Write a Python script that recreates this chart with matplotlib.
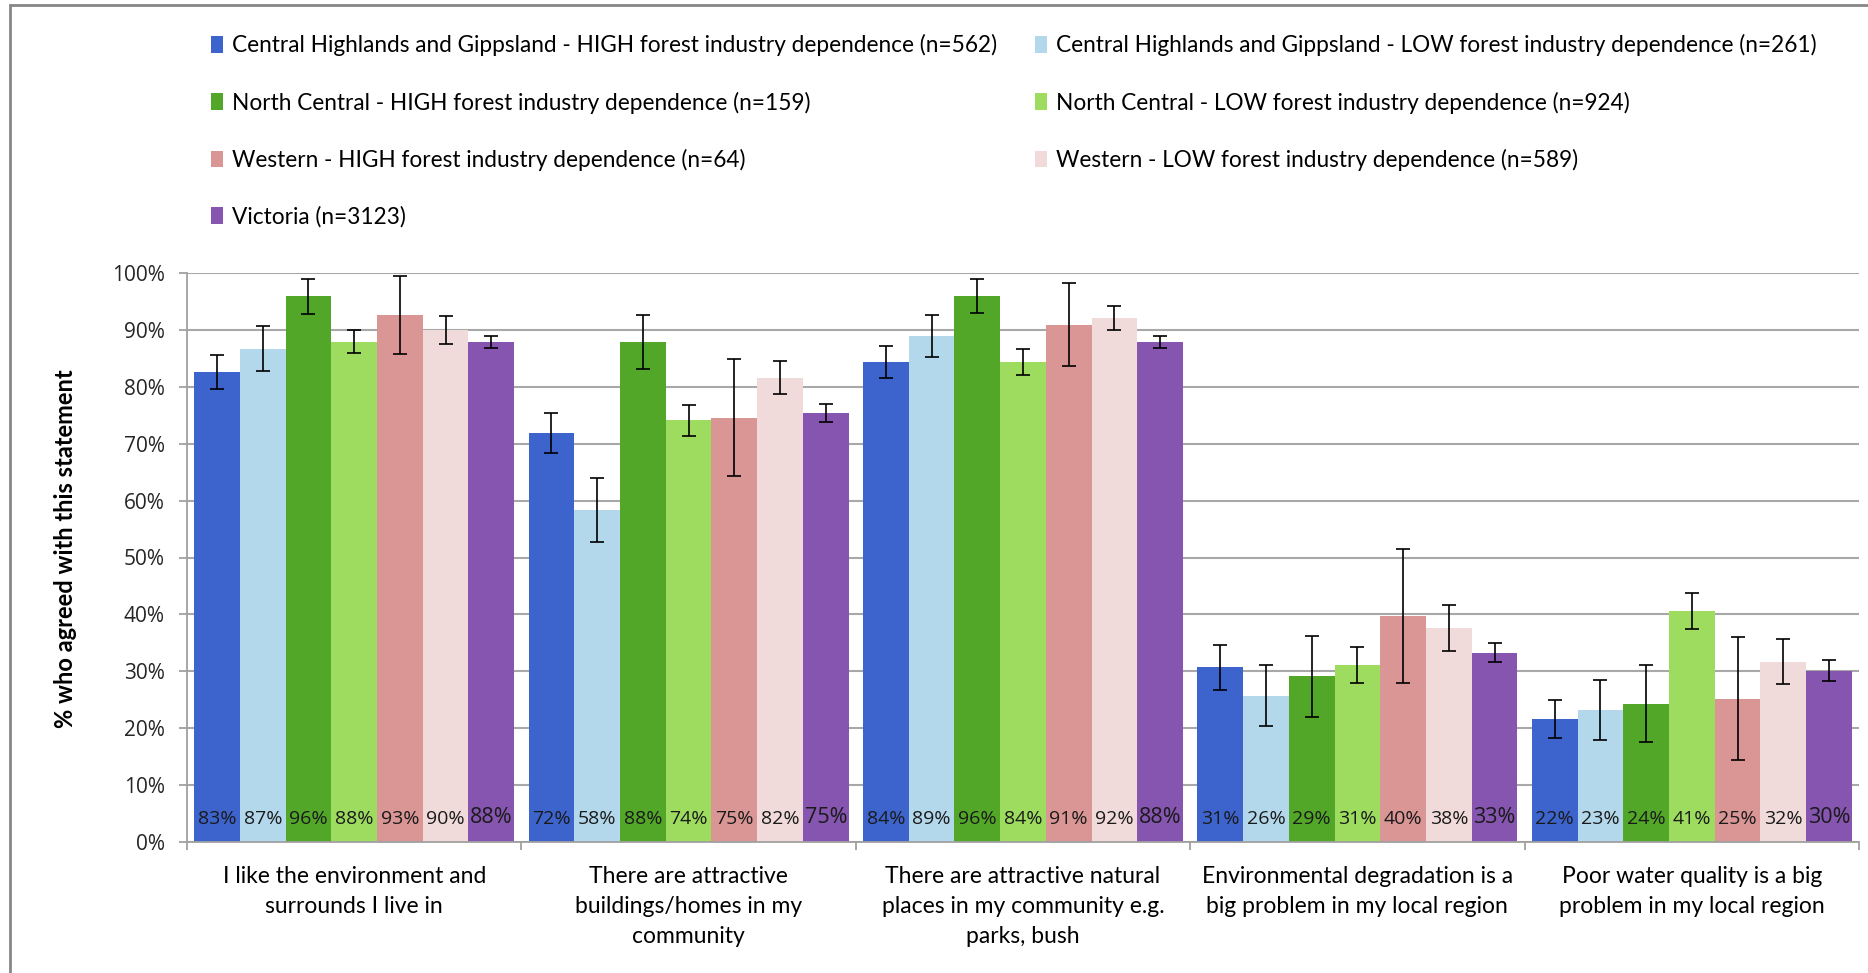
import matplotlib
matplotlib.use("Agg")
import matplotlib.pyplot as plt
import numpy as np
from matplotlib.patches import Patch, Rectangle
from matplotlib.ticker import FixedLocator, FuncFormatter

categories = [
    "I like the environment and\nsurrounds I live in",
    "There are attractive\nbuildings/homes in my\ncommunity",
    "There are attractive natural\nplaces in my community e.g.\nparks, bush",
    "Environmental degradation is a\nbig problem in my local region",
    "Poor water quality is a big\nproblem in my local region",
]

series_names = [
    "Central Highlands and Gippsland - HIGH forest industry dependence (n=562)",
    "Central Highlands and Gippsland - LOW forest industry dependence (n=261)",
    "North Central - HIGH forest industry dependence (n=159)",
    "North Central - LOW forest industry dependence (n=924)",
    "Western - HIGH forest industry dependence (n=64)",
    "Western - LOW forest industry dependence (n=589)",
    "Victoria (n=3123)",
]

# % agreed, per statement
chg_high = [82.6, 71.9, 84.3, 30.7, 21.6]
chg_low = [86.7, 58.4, 88.9, 25.7, 23.2]
nc_high = [95.9, 87.9, 96.0, 29.1, 24.3]
nc_low = [87.9, 74.1, 84.3, 31.1, 40.6]
w_high = [92.6, 74.6, 90.9, 39.7, 25.2]
w_low = [90.0, 81.6, 92.1, 37.6, 31.7]
victoria = [87.9, 75.4, 87.9, 33.3, 30.1]

# half-width of the confidence intervals
chg_high_err = [3.0, 3.5, 2.8, 3.9, 3.4]
chg_low_err = [4.0, 5.6, 3.7, 5.4, 5.2]
nc_high_err = [3.1, 4.7, 3.0, 7.1, 6.8]
nc_low_err = [2.0, 2.7, 2.3, 3.2, 3.2]
w_high_err = [6.9, 10.3, 7.3, 11.8, 10.8]
w_low_err = [2.4, 2.9, 2.1, 4.0, 3.9]
victoria_err = [1.1, 1.5, 1.1, 1.7, 1.8]

values = [chg_high, chg_low, nc_high, nc_low, w_high, w_low, victoria]
errors = [chg_high_err, chg_low_err, nc_high_err, nc_low_err, w_high_err, w_low_err, victoria_err]
colors = ["#3d64cd", "#b3d8ec", "#52a729", "#9ddc5e", "#da9595", "#f1dada", "#8655b0"]

W, H = 1868, 973
fig = plt.figure(figsize=(W / 100, H / 100), dpi=100)
ax = fig.add_axes([187 / W, 1 - 842 / H, (1859 - 187) / W, (842 - 273) / H])

x = np.arange(len(categories))
bw = 0.957 / len(values)
for i, (vals, errs, col) in enumerate(zip(values, errors, colors)):
    pos = x + (i - 3) * bw
    ax.bar(pos, vals, bw, color=col, yerr=errs, zorder=2,
           error_kw=dict(ecolor="black", elinewidth=1.2, capsize=5, capthick=1.2, zorder=3))
    big = i == len(values) - 1
    for px_, v in zip(pos, vals):
        ax.text(px_, 4.3 if big else 4.0, f"{v:.0f}%", ha="center", va="center",
                fontsize=15.5 if big else 14, color="#1a1a1a", family="Open Sans", zorder=4)

ax.set_ylim(0, 100)
ax.set_xlim(-0.5, len(categories) - 0.5)
ax.set_yticks(np.arange(0, 101, 10))
ax.yaxis.set_major_formatter(FuncFormatter(lambda v, p: f"{v:.0f}%"))
ax.yaxis.grid(True, color="#a8a8a8", lw=1.5, zorder=0)
ax.set_axisbelow(True)

ax.xaxis.set_major_locator(FixedLocator(np.arange(-0.5, len(categories), 1.0)))
ax.xaxis.set_major_formatter(FuncFormatter(lambda v, p: ""))
ax.xaxis.set_minor_locator(FixedLocator(x))
ax.set_xticklabels(categories, minor=True, family="Lato", fontsize=16.5, linespacing=1.55)
ax.tick_params(axis="x", which="minor", length=0, pad=17)
ax.tick_params(axis="x", which="major", length=6, color="#a0a0a0", width=1.3)
ax.tick_params(axis="y", length=6, color="#a0a0a0", width=1.3, labelsize=15, pad=10)
for lab in ax.get_yticklabels():
    lab.set_family("Open Sans")
    lab.set_color("#262626")

for s in ["top", "right"]:
    ax.spines[s].set_visible(False)
for s in ["left", "bottom"]:
    ax.spines[s].set_color("#a0a0a0")
    ax.spines[s].set_linewidth(1.3)

fig.text(66 / W, 1 - 549 / H, "% who agreed with this statement", rotation=90,
         ha="center", va="center", fontsize=17, fontweight="bold", family="Lato")

# legend: two columns, placed separately
handles = [Patch(facecolor=c, edgecolor="none") for c in colors]
left_idx = [0, 2, 4, 6]
right_idx = [1, 3, 5]
for idx, xl in [(left_idx, 200), (right_idx, 1024)]:
    fig.legend([handles[k] for k in idx], [series_names[k] for k in idx],
               loc="upper left", bbox_to_anchor=(xl / W, 1 - 23 / H),
               frameon=False, handlelength=0.5, handleheight=0.75, handletextpad=0.4,
               labelspacing=1.55, borderpad=0, prop=dict(family="Lato", size=16.3))

# outer chart border
fig.add_artist(Rectangle((10 / W, -0.1), 1.2, 1 - 5 / H + 0.1, transform=fig.transFigure,
                         fill=False, edgecolor="#868686", lw=2, clip_on=False))

fig.savefig("out.png", dpi=100, facecolor="white")
